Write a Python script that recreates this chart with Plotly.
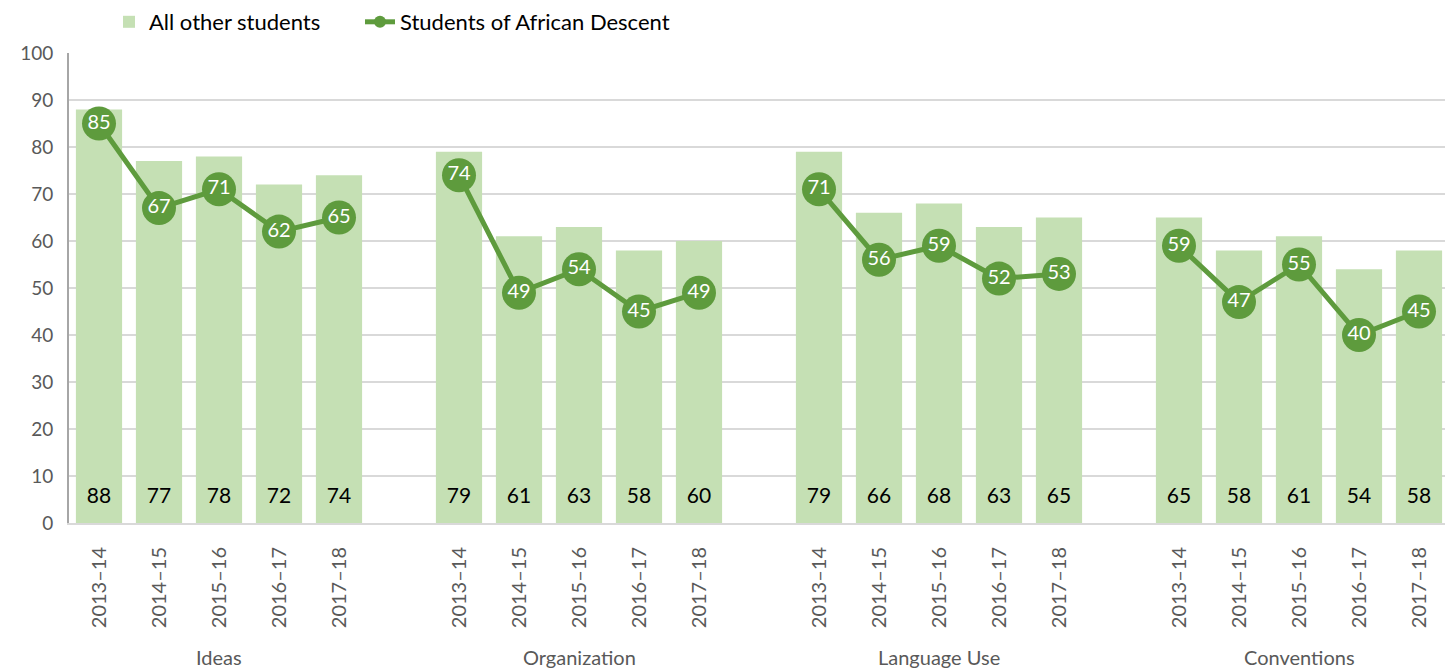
import plotly.graph_objects as go

groups = ["Ideas", "Organization", "Language Use", "Conventions"]
years = ["2013–14", "2014–15", "2015–16", "2016–17", "2017–18"]
all_other = [
    [88, 77, 78, 72, 74],
    [79, 61, 63, 58, 60],
    [79, 66, 68, 63, 65],
    [65, 58, 61, 54, 58],
]
african_descent = [
    [85, 67, 71, 62, 65],
    [74, 49, 54, 45, 49],
    [71, 56, 59, 52, 53],
    [59, 47, 55, 40, 45],
]

BAR = "#C5E0B4"
LINE = "#5E9B3D"
GRAY = "#595959"
FONT = "Lato"

# page body has an 8px margin; size the figure so it fills the window
W, H = 1445, 663
OFF = 8

slot = len(years) + 1
bx, by, lx, ly, ticks, ticktext = [], [], [], [], [], []
for g in range(len(groups)):
    for i in range(len(years)):
        x = g * slot + i
        bx.append(x)
        by.append(all_other[g][i])
        lx.append(x)
        ly.append(african_descent[g][i])
        ticks.append(x)
        ticktext.append(years[i])
    if g < len(groups) - 1:
        lx.append(g * slot + len(years))
        ly.append(None)

fig = go.Figure()
fig.add_trace(go.Bar(
    x=bx, y=by, name="All other students", marker_color=BAR,
    marker_line_width=0, width=0.77, hoverinfo="x+y", legend="legend",
))
fig.add_trace(go.Scatter(
    x=bx, y=[5.3] * len(bx), mode="text", text=[str(v) for v in by],
    textfont=dict(family=FONT, size=21, color="#000000"),
    showlegend=False, hoverinfo="skip",
))
fig.add_trace(go.Scatter(
    x=lx, y=ly, name="Students of African Descent", mode="lines+markers+text",
    connectgaps=False,
    line=dict(color=LINE, width=5),
    marker=dict(color=LINE, size=34),
    text=[("" if v is None else str(v)) for v in ly],
    textposition="middle center",
    textfont=dict(family=FONT, size=20, color="#FFFFFF"),
    legend="legend2",
))

for g, name in enumerate(groups):
    fig.add_annotation(
        x=g * slot + (len(years) - 1) / 2, y=-(657 - 523) / 470, xref="x", yref="paper",
        text=name, showarrow=False, yanchor="middle",
        font=dict(family=FONT, size=20, color=GRAY),
    )

ml, mt = 69 - OFF, 53 - OFF
pw, ph = 1380, 470


def legend_at(page_x):
    return dict(
        orientation="h", x=(page_x - 69) / pw, xanchor="left", xref="paper",
        y=1 - (22 - OFF) / H, yref="container", yanchor="middle",
        font=dict(family=FONT, size=22, color="#000000"),
        itemsizing="constant", bgcolor="rgba(0,0,0,0)",
    )


fig.update_layout(
    width=W, height=H,
    margin=dict(l=ml, r=W - ml - pw, t=mt, b=H - mt - ph, autoexpand=False),
    plot_bgcolor="white", paper_bgcolor="white",
    font=dict(family=FONT, size=19, color=GRAY),
    showlegend=True,
    legend=legend_at(109),
    legend2=legend_at(360),
    bargap=0.23,
    xaxis=dict(
        range=[-0.5, slot * len(groups) - 1 - 0.5],
        tickmode="array", tickvals=ticks, ticktext=ticktext,
        tickangle=-90, showgrid=False, zeroline=False,
        showline=True, linecolor="#D9D9D9", linewidth=2,
        tickfont=dict(family=FONT, size=20, color=GRAY),
        ticks="", ticklabelstandoff=14, automargin=False,
    ),
    yaxis=dict(
        range=[0, 100], dtick=10, showgrid=True, gridcolor="#D9D9D9",
        gridwidth=2, zeroline=False, showline=True, linecolor="#A6A6A6",
        linewidth=2, ticks="", tickfont=dict(family=FONT, size=19, color=GRAY),
        ticklabelstandoff=10, automargin=False,
    ),
)

fig.write_html("out.html")
